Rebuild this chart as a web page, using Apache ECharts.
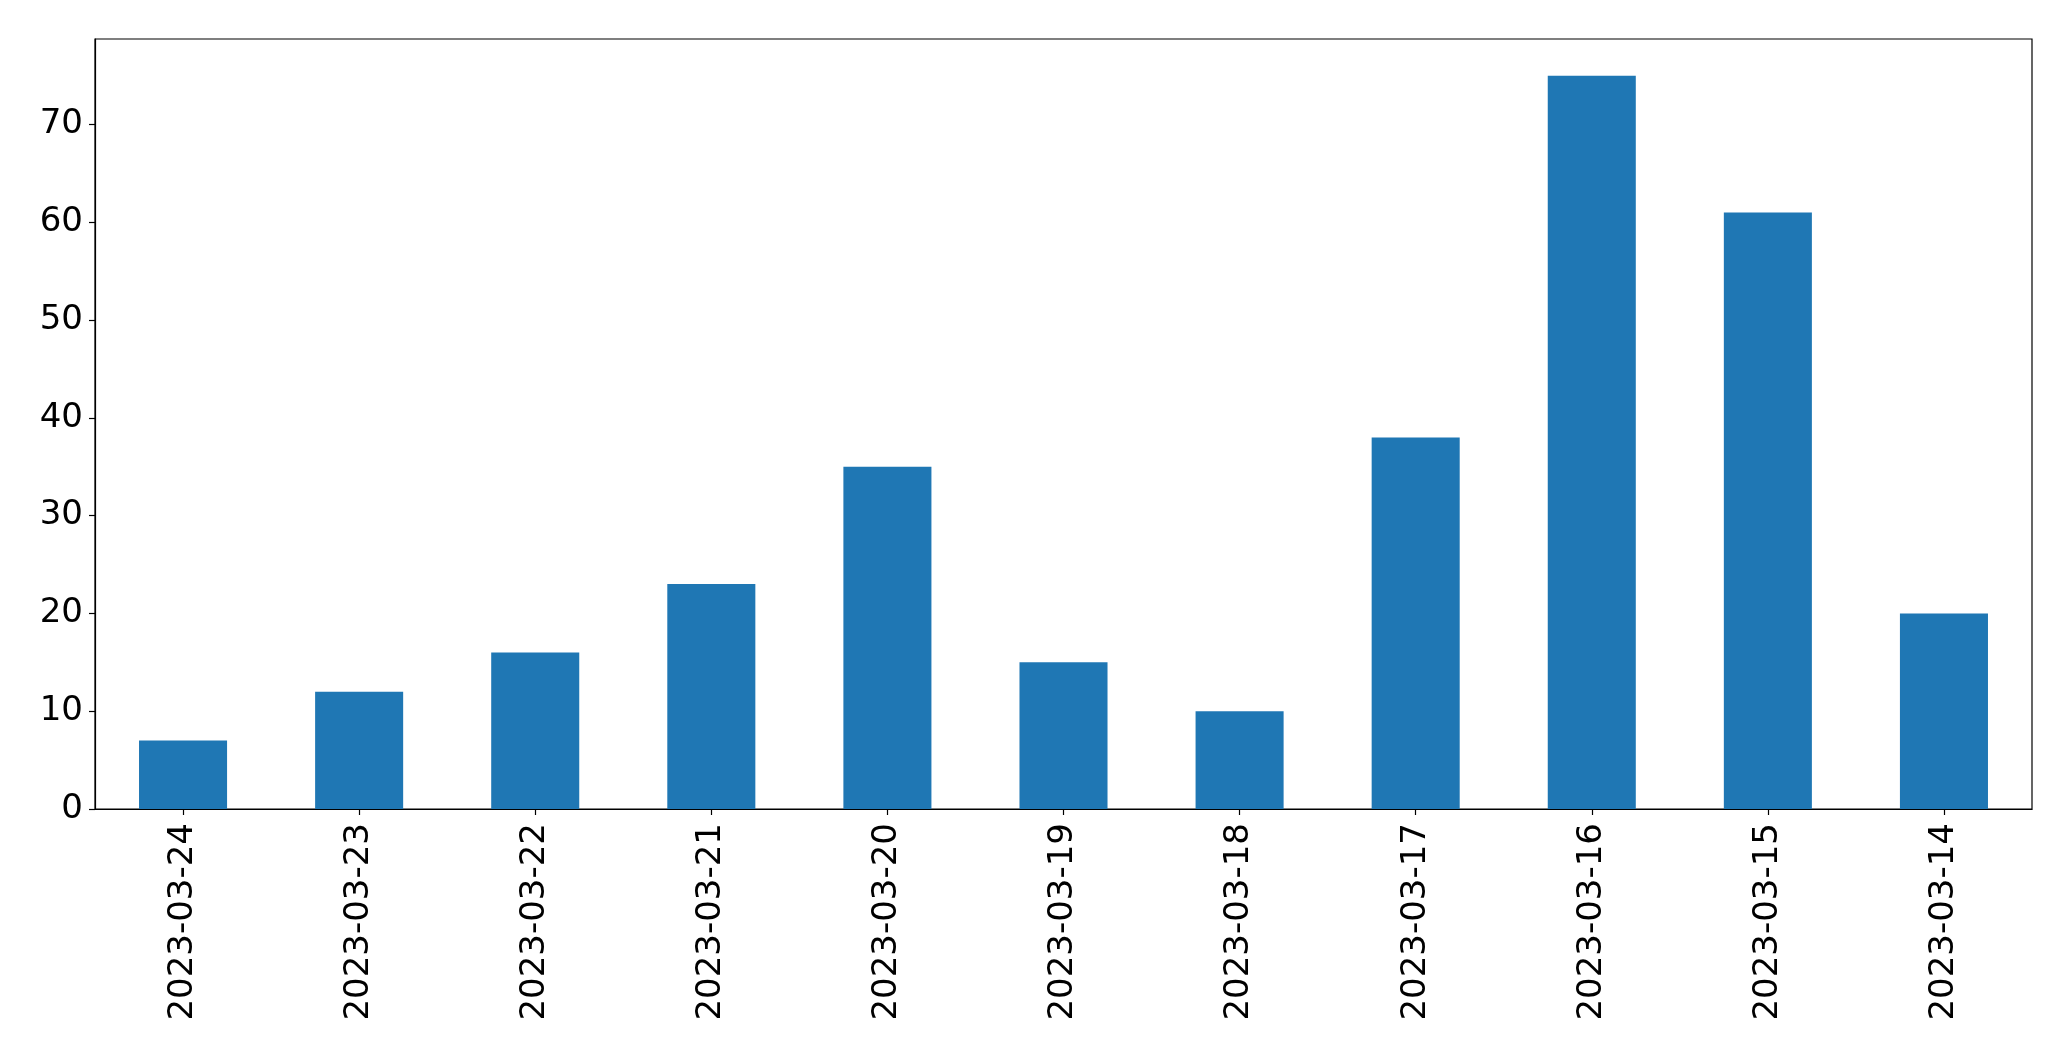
<!DOCTYPE html>
<html>
<head>
<meta charset="utf-8">
<script src="https://cdn.jsdelivr.net/npm/echarts@6/dist/echarts.min.js"></script>
<style>
html,body{margin:0;padding:0;background:#fff;}
#chart{width:2071px;height:1061px;}
</style>
</head>
<body>
<div id="chart"></div>
<script>
const categories = ["2023-03-24","2023-03-23","2023-03-22","2023-03-21","2023-03-20","2023-03-19","2023-03-18","2023-03-17","2023-03-16","2023-03-15","2023-03-14"];
const counts = [7, 12, 16, 23, 35, 15, 10, 38, 75, 61, 20];
const yTicks = [0, 10, 20, 30, 40, 50, 60, 70];
const yMax = 78.75;

const chart = echarts.init(document.getElementById('chart'), null, {renderer: 'canvas'});
const font = '"DejaVu Sans", sans-serif';
chart.setOption({
  animation: false,
  backgroundColor: '#ffffff',
  grid: {
    left: 95, right: 39, top: 39, bottom: 252,
    show: true, borderColor: '#000000', borderWidth: 1.2, backgroundColor: 'transparent'
  },
  xAxis: {
    type: 'category',
    data: categories,
    axisLine: {show: true, lineStyle: {color: '#000', width: 1.2}},
    axisTick: {show: true, alignWithLabel: true, length: 6, lineStyle: {color: '#000', width: 1.2}},
    axisLabel: {rotate: 90, fontSize: 34, fontFamily: font, color: '#000', margin: 14, interval: 0},
    splitLine: {show: false}
  },
  yAxis: {
    type: 'value',
    min: 0,
    max: yMax,
    interval: 10,
    axisLine: {show: true, lineStyle: {color: '#000', width: 1.2}},
    axisTick: {show: true, length: 6, lineStyle: {color: '#000', width: 1.2}, customValues: yTicks},
    axisLabel: {fontSize: 34, fontFamily: font, color: '#000', margin: 12, padding: [6, 0, 0, 0], customValues: yTicks},
    splitLine: {show: false}
  },
  series: [{
    type: 'bar',
    data: counts,
    barWidth: '50%',
    itemStyle: {color: '#1f77b4'}
  }]
});
</script>
</body>
</html>
